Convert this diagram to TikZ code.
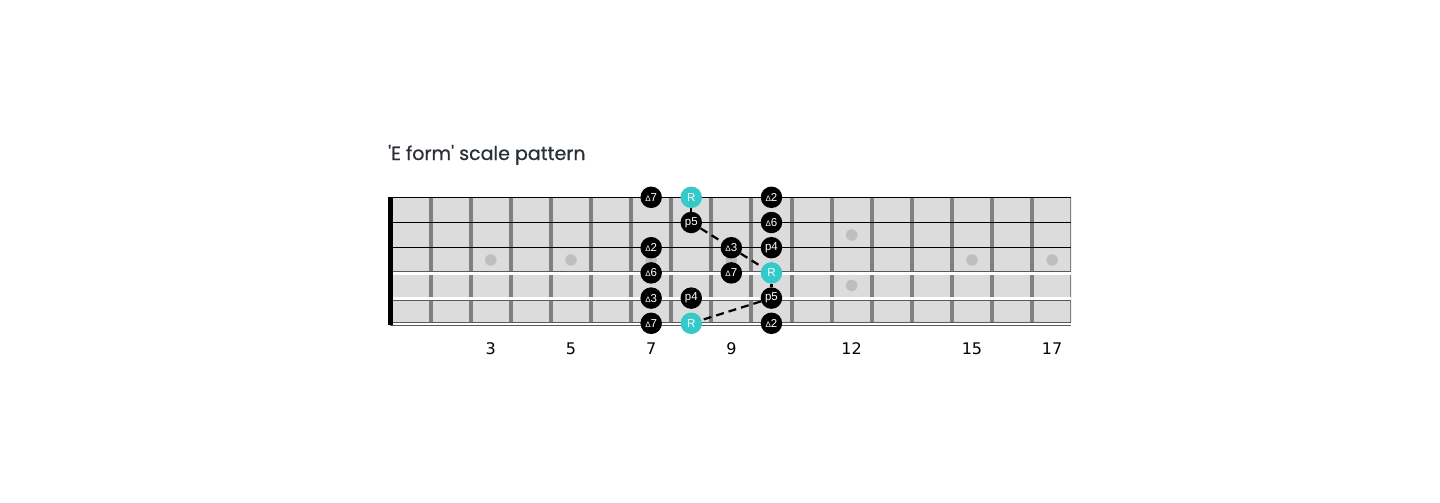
\documentclass[tikz,border=0pt]{standalone}
\usepackage{fontspec}
\setmainfont{DejaVu Sans}
\newfontfamily\titlefont[Ligatures=TeXOff,FakeBold=0.6]{Poppins}
\newfontfamily\notefont{Liberation Sans}
\definecolor{boardgray}{HTML}{DCDCDC}
\definecolor{fretgray}{HTML}{808080}
\definecolor{inlaygray}{HTML}{BEBEBE}
\definecolor{rootcyan}{HTML}{36C9C9}
\definecolor{titleink}{HTML}{2A2F36}
\newcommand\tri{{\fontsize{8}{8}\selectfont Δ}}
\tikzset{
  note/.style={circle,fill=black,text=white,minimum size=21.5pt,inner sep=0pt,
    font=\notefont\fontsize{11.5}{11.5}\selectfont},
  root/.style={note,fill=rootcyan},
  inlay/.style={circle,fill=inlaygray,minimum size=11.5pt,inner sep=0pt},
  fretnum/.style={font=\fontsize{16}{16}\selectfont,text=black},
  link/.style={line width=2.2pt},
  gap/.style={link,dash pattern=on 8pt off 5pt},
}
\begin{document}
\begin{tikzpicture}[x=1pt,y=-1pt]
  \useasboundingbox (0,0) rectangle (1440,503);
  % board and frets
  \fill[boardgray] (390,197) rectangle (1071,323);
  \begin{scope}
    \clip (390,197) rectangle (1071,323);
    \foreach \f in {1,...,17}
      \fill[fretgray] ({388.5+40.1*\f},197) rectangle ({392.5+40.1*\f},323);
  \end{scope}
  % inlays
  \foreach \f/\y [count=\i] in {3/260,5/260,7/260,9/260,12/235,12/285.5,15/260,17/260}
    \node[inlay] (dot\i) at ({390.5+40.1*(\f-0.5)},\y) {};
  % strings
  \foreach \s in {1,2,3}
    \draw[line width=1.2pt] (390,{197.3+25.2*(\s-1)}) -- (1071,{197.3+25.2*(\s-1)});
  \foreach \s in {4,5,6}{
    \draw[line width=4pt,fretgray!70!black] (390,{197.8+25.2*(\s-1)}) -- (1071,{197.8+25.2*(\s-1)});
    \draw[line width=2.4pt,white] (390,{197.8+25.2*(\s-1)}) -- (1071,{197.8+25.2*(\s-1)});
  }
  % nut
  \fill[black] (388,196.5) rectangle (392.5,324.5);
  % title and fret numbers
  \node[anchor=base west,font=\titlefont\fontsize{19}{19}\selectfont,text=titleink,inner sep=0pt]
    (title) at (388,160) {'E form' scale pattern};
  \foreach \f in {3,5,7,9,12,15,17}
    \node[fretnum] (num\f) at ({390.5+40.1*(\f-0.5)},348.3) {\f};
  % scale notes: string/fret/label/style
  \foreach \s/\f/\lab/\kind in {1/7/\tri7/note,1/8/R/root,1/10/\tri2/note,
      2/8/p5/note,2/10/\tri6/note,
      3/7/\tri2/note,3/9/\tri3/note,3/10/p4/note,
      4/7/\tri6/note,4/9/\tri7/note,4/10/R/root,
      5/7/\tri3/note,5/8/p4/note,5/10/p5/note,
      6/7/\tri7/note,6/8/R/root,6/10/\tri2/note}
    \node[\kind] (n\s-\f) at ({390.5+40.1*(\f-0.5)},{197.3+25.2*(\s-1)}) {\lab};
  % shape path
  \draw[link] (n1-8) -- (n2-8);
  \draw[gap] (n2-8) -- (n3-9);
  \draw[gap] (n3-9) -- (n4-10);
  \draw[link] (n4-10) -- (n5-10);
  \draw[gap] (n5-10) -- (n6-8);
\end{tikzpicture}
\end{document}
